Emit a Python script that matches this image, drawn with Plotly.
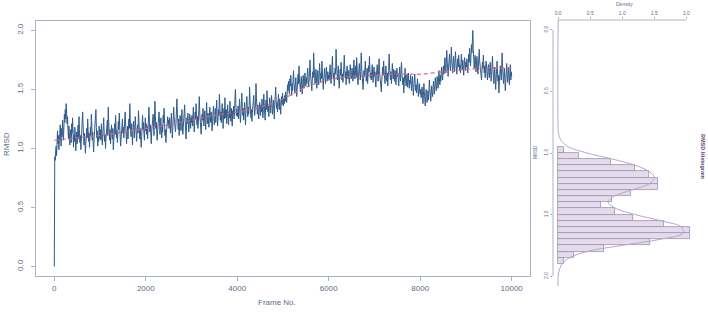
import plotly.graph_objects as go

# ---------------- data ----------------
rmsd = [0.00,
 0.93, 0.90, 0.97, 1.02, 0.94, 1.08, 1.15, 1.04, 1.11, 0.99, 1.06, 1.13, 1.20, 1.09, 1.02, 1.17, 1.10, 1.24, 1.14, 1.07, 1.19, 1.29, 1.22, 1.33, 1.25,
 1.38, 1.30, 1.21, 1.27, 1.15, 1.08, 1.19, 1.12, 1.03, 1.10, 1.16, 1.05, 1.21, 1.13, 1.26, 1.09, 1.01, 1.12, 1.06, 1.18, 1.11, 0.98, 1.07, 1.14, 1.04,
 1.12, 1.20, 1.08, 1.27, 1.16, 1.05, 1.11, 0.99, 1.07, 1.14, 1.22, 1.31, 1.19, 1.10, 1.03, 1.13, 1.08, 0.96, 1.04, 1.12, 1.17, 1.09, 1.25, 1.15, 1.06,
 1.13, 1.01, 1.10, 1.18, 1.11, 1.29, 1.20, 1.07, 1.14, 1.04, 0.97, 1.08, 1.16, 1.12, 1.23, 1.33, 1.18, 1.09, 1.15, 1.02, 1.10, 1.06, 1.19, 1.13, 1.08,
 1.16, 1.07, 1.21, 1.12, 1.03, 1.10, 1.17, 1.26, 1.14, 1.06, 1.12, 1.00, 1.09, 1.19, 1.15, 1.24, 1.11, 1.35, 1.22, 1.13, 1.07, 1.16, 1.04, 1.11, 1.20,
 1.14, 1.08, 1.17, 0.99, 1.06, 1.13, 1.21, 1.12, 1.28, 1.18, 1.09, 1.15, 1.05, 1.11, 1.23, 1.16, 1.30, 1.19, 1.10, 1.02, 1.08, 1.15, 1.12, 1.25, 1.13,
 1.18, 1.09, 1.14, 1.22, 1.31, 1.20, 1.11, 1.04, 1.13, 1.19, 1.08, 1.16, 1.25, 1.17, 1.38, 1.26, 1.14, 1.10, 1.21, 1.12, 1.03, 1.15, 1.23, 1.18, 1.09,
 1.16, 1.27, 1.19, 1.11, 1.06, 1.14, 1.20, 1.13, 1.32, 1.24, 1.15, 1.08, 1.17, 1.12, 1.01, 1.10, 1.19, 1.28, 1.16, 1.22, 1.13, 1.07, 1.18, 1.26, 1.15,
 1.21, 1.12, 1.19, 1.08, 1.16, 1.27, 1.35, 1.22, 1.14, 1.20, 1.10, 1.04, 1.15, 1.23, 1.18, 1.29, 1.19, 1.11, 1.25, 1.40, 1.28, 1.17, 1.22, 1.13, 1.07,
 1.16, 1.24, 1.19, 1.31, 1.21, 1.12, 1.18, 1.26, 1.15, 1.09, 1.20, 1.14, 1.28, 1.22, 1.34, 1.18, 1.11, 1.16, 1.05, 1.13, 1.21, 1.17, 1.27, 1.19, 1.24,
 1.17, 1.26, 1.20, 1.13, 1.22, 1.30, 1.19, 1.09, 1.16, 1.24, 1.35, 1.27, 1.18, 1.23, 1.14, 1.21, 1.29, 1.42, 1.31, 1.22, 1.16, 1.25, 1.11, 1.19, 1.28,
 1.21, 1.15, 1.24, 1.33, 1.20, 1.12, 1.18, 1.27, 1.23, 1.37, 1.25, 1.17, 1.08, 1.19, 1.26, 1.21, 1.30, 1.22, 1.14, 1.20, 1.29, 1.24, 1.17, 1.26, 1.22,
 1.28, 1.19, 1.26, 1.35, 1.22, 1.14, 1.24, 1.31, 1.25, 1.38, 1.29, 1.20, 1.27, 1.17, 1.23, 1.33, 1.44, 1.30, 1.21, 1.26, 1.12, 1.22, 1.29, 1.24, 1.34,
 1.27, 1.19, 1.25, 1.32, 1.23, 1.16, 1.28, 1.39, 1.27, 1.21, 1.30, 1.24, 1.18, 1.26, 1.35, 1.28, 1.22, 1.31, 1.25, 1.15, 1.23, 1.29, 1.36, 1.26, 1.20,
 1.27, 1.34, 1.22, 1.30, 1.41, 1.29, 1.19, 1.26, 1.33, 1.28, 1.46, 1.35, 1.24, 1.31, 1.22, 1.29, 1.38, 1.30, 1.17, 1.27, 1.34, 1.25, 1.43, 1.32, 1.26,
 1.33, 1.21, 1.29, 1.37, 1.28, 1.20, 1.31, 1.26, 1.40, 1.30, 1.23, 1.34, 1.27, 1.19, 1.32, 1.29, 1.36, 1.25, 1.31, 1.42, 1.50, 1.38, 1.28, 1.33, 1.27,
 1.30, 1.36, 1.25, 1.33, 1.42, 1.31, 1.22, 1.29, 1.37, 1.47, 1.35, 1.28, 1.34, 1.24, 1.31, 1.39, 1.30, 1.20, 1.32, 1.38, 1.44, 1.33, 1.27, 1.35, 1.29,
 1.36, 1.52, 1.40, 1.31, 1.26, 1.33, 1.23, 1.30, 1.38, 1.34, 1.45, 1.36, 1.28, 1.32, 1.40, 1.55, 1.42, 1.33, 1.29, 1.37, 1.31, 1.25, 1.34, 1.39, 1.32,
 1.28, 1.37, 1.31, 1.42, 1.34, 1.26, 1.33, 1.46, 1.38, 1.30, 1.24, 1.35, 1.41, 1.33, 1.49, 1.39, 1.31, 1.36, 1.27, 1.34, 1.43, 1.37, 1.30, 1.38, 1.45,
 1.36, 1.29, 1.35, 1.41, 1.33, 1.25, 1.37, 1.44, 1.52, 1.40, 1.34, 1.39, 1.31, 1.36, 1.46, 1.38, 1.33, 1.42, 1.35, 1.29, 1.38, 1.44, 1.37, 1.47, 1.40,
 1.36, 1.42, 1.38, 1.45, 1.40, 1.48, 1.43, 1.39, 1.46, 1.54, 1.49, 1.57, 1.51, 1.46, 1.59, 1.53, 1.62, 1.50, 1.45, 1.55, 1.49, 1.58, 1.66, 1.56, 1.51,
 1.47, 1.54, 1.60, 1.52, 1.44, 1.50, 1.57, 1.63, 1.55, 1.70, 1.59, 1.52, 1.48, 1.56, 1.61, 1.53, 1.46, 1.55, 1.62, 1.57, 1.51, 1.59, 1.64, 1.56, 1.53,
 1.60, 1.55, 1.63, 1.68, 1.59, 1.52, 1.57, 1.66, 1.75, 1.64, 1.56, 1.61, 1.49, 1.58, 1.65, 1.60, 1.81, 1.70, 1.62, 1.55, 1.59, 1.67, 1.57, 1.51, 1.60,
 1.66, 1.58, 1.54, 1.63, 1.72, 1.61, 1.56, 1.64, 1.59, 1.74, 1.65, 1.57, 1.50, 1.58, 1.62, 1.68, 1.60, 1.55, 1.63, 1.69, 1.61, 1.57, 1.65, 1.59, 1.62,
 1.58, 1.66, 1.71, 1.62, 1.55, 1.60, 1.69, 1.78, 1.66, 1.59, 1.64, 1.53, 1.61, 1.68, 1.63, 1.84, 1.72, 1.64, 1.58, 1.62, 1.70, 1.57, 1.51, 1.60, 1.67,
 1.62, 1.73, 1.65, 1.58, 1.63, 1.56, 1.61, 1.69, 1.79, 1.67, 1.60, 1.65, 1.54, 1.62, 1.70, 1.64, 1.59, 1.66, 1.61, 1.55, 1.63, 1.71, 1.65, 1.59, 1.62,
 1.68, 1.61, 1.57, 1.64, 1.75, 1.66, 1.59, 1.63, 1.70, 1.60, 1.77, 1.68, 1.62, 1.54, 1.61, 1.66, 1.72, 1.63, 1.58, 1.65, 1.81, 1.69, 1.62, 1.56, 1.50,
 1.59, 1.66, 1.61, 1.69, 1.74, 1.64, 1.57, 1.62, 1.68, 1.55, 1.63, 1.70, 1.65, 1.78, 1.67, 1.60, 1.64, 1.58, 1.66, 1.71, 1.62, 1.56, 1.63, 1.69, 1.61,
 1.65, 1.58, 1.52, 1.61, 1.68, 1.71, 1.63, 1.57, 1.66, 1.76, 1.65, 1.59, 1.62, 1.56, 1.48, 1.58, 1.64, 1.69, 1.62, 1.74, 1.66, 1.60, 1.55, 1.63, 1.70,
 1.61, 1.57, 1.64, 1.53, 1.60, 1.66, 1.80, 1.69, 1.62, 1.58, 1.65, 1.55, 1.61, 1.72, 1.64, 1.59, 1.67, 1.62, 1.57, 1.66, 1.60, 1.54, 1.63, 1.68, 1.61,
 1.64, 1.59, 1.53, 1.61, 1.69, 1.62, 1.57, 1.66, 1.73, 1.64, 1.58, 1.54, 1.60, 1.47, 1.55, 1.62, 1.68, 1.59, 1.53, 1.57, 1.63, 1.52, 1.58, 1.64, 1.56,
 1.51, 1.58, 1.55, 1.62, 1.54, 1.49, 1.56, 1.61, 1.53, 1.45, 1.52, 1.58, 1.63, 1.55, 1.49, 1.54, 1.47, 1.52, 1.59, 1.51, 1.44, 1.50, 1.55, 1.48, 1.46,
 1.50, 1.43, 1.47, 1.52, 1.41, 1.38, 1.45, 1.55, 1.48, 1.42, 1.36, 1.44, 1.50, 1.46, 1.39, 1.43, 1.49, 1.41, 1.47, 1.58, 1.51, 1.45, 1.40, 1.46, 1.53,
 1.48, 1.44, 1.50, 1.57, 1.52, 1.46, 1.53, 1.60, 1.55, 1.49, 1.54, 1.61, 1.57, 1.51, 1.58, 1.66, 1.59, 1.54, 1.62, 1.57, 1.64, 1.69, 1.61, 1.58, 1.65,
 1.70, 1.63, 1.68, 1.77, 1.71, 1.64, 1.72, 1.83, 1.74, 1.67, 1.61, 1.69, 1.75, 1.80, 1.72, 1.66, 1.73, 1.86, 1.76, 1.69, 1.64, 1.71, 1.78, 1.70, 1.65,
 1.72, 1.82, 1.74, 1.68, 1.63, 1.70, 1.76, 1.69, 1.79, 1.73, 1.66, 1.71, 1.64, 1.74, 1.80, 1.72, 1.67, 1.75, 1.69, 1.62, 1.70, 1.77, 1.71, 1.66, 1.73,
 1.69, 1.76, 1.70, 1.64, 1.72, 1.80, 1.73, 1.85, 1.77, 1.70, 1.78, 1.88, 1.81, 1.92, 2.00, 1.84, 1.75, 1.68, 1.73, 1.79, 1.71, 1.65, 1.72, 1.78, 1.70,
 1.63, 1.69, 1.75, 1.84, 1.74, 1.67, 1.71, 1.62, 1.58, 1.66, 1.73, 1.68, 1.79, 1.71, 1.64, 1.70, 1.60, 1.67, 1.74, 1.69, 1.63, 1.58, 1.65, 1.71, 1.66,
 1.60, 1.68, 1.73, 1.65, 1.57, 1.62, 1.71, 1.78, 1.67, 1.61, 1.55, 1.63, 1.69, 1.58, 1.50, 1.59, 1.66, 1.74, 1.64, 1.57, 1.62, 1.47, 1.56, 1.63, 1.70,
 1.64, 1.58, 1.67, 1.81, 1.70, 1.62, 1.55, 1.61, 1.68, 1.59, 1.49, 1.57, 1.65, 1.72, 1.63, 1.56, 1.62, 1.69, 1.60, 1.54, 1.63, 1.71, 1.58, 1.65, 1.61]
FRAME_STEP = 10
frames = [i * FRAME_STEP for i in range(len(rmsd))]

smooth_frames = [0, 500, 1000, 1500, 2000, 2500, 3000, 3500, 4000, 4500, 5000,
                 5500, 6000, 6500, 7000, 7500, 8000, 8500, 9000, 9500, 10000]
smooth_rmsd = [1.07, 1.09, 1.11, 1.14, 1.17, 1.20, 1.24, 1.28, 1.31, 1.35, 1.42,
               1.52, 1.58, 1.61, 1.62, 1.63, 1.63, 1.65, 1.67, 1.68, 1.68]

bin_centers = [0.975, 1.025, 1.075, 1.125, 1.175, 1.225, 1.275, 1.325, 1.375, 1.425,
               1.475, 1.525, 1.575, 1.625, 1.675, 1.725, 1.775, 1.825, 1.875]
bin_density = [0.09, 0.33, 0.82, 1.20, 1.41, 1.56, 1.55, 1.14, 0.84, 0.67,
               0.88, 1.17, 1.65, 2.05, 2.06, 1.43, 0.71, 0.25, 0.09]

dens_rmsd = [-0.08, 0.80, 0.85, 0.90, 0.95, 1.00, 1.05, 1.10, 1.15, 1.20, 1.25, 1.30,
             1.35, 1.40, 1.45, 1.50, 1.55, 1.60, 1.65, 1.70, 1.75, 1.80, 1.85,
             1.90, 1.95, 2.00, 2.08]
dens_vals = [0.0, 0.0, 0.01, 0.05, 0.16, 0.45, 0.85, 1.20, 1.42, 1.50, 1.42, 1.15,
             0.88, 0.78, 0.90, 1.20, 1.60, 1.92, 1.95, 1.60, 1.00, 0.45, 0.18,
             0.06, 0.02, 0.0, 0.0]

main_xticks = [0, 2000, 4000, 6000, 8000, 10000]
rmsd_ticks = [0.0, 0.5, 1.0, 1.5, 2.0]
dens_ticks = [0.0, 0.5, 1.0, 1.5, 2.0]

# ---------------- styles ----------------
W, H = 708, 312
FONT = "Liberation Sans"
TXT = "#5b6c8a"
AXC = "#aab3c3"
BLUE = "#2f5b8b"
RED = "#e2627f"
HFILL = "#e4dcec"
HLINE = "#9c8fae"
DLINE = "#b8a8c8"
PURP = "#5a3f7c"

def px(x):
    return x / W

def py(y):
    return (H - y) / H

fig = go.Figure()

fig.add_trace(go.Scatter(x=frames, y=rmsd, mode="lines",
                         line=dict(color=BLUE, width=1.0), xaxis="x", yaxis="y",
                         showlegend=False))
fig.add_trace(go.Scatter(x=smooth_frames, y=smooth_rmsd, mode="lines",
                         line=dict(color=RED, width=1.2, dash="4px,3px", shape="spline"),
                         xaxis="x", yaxis="y", showlegend=False))

fig.add_trace(go.Bar(y=bin_centers, x=bin_density, orientation="h", width=0.05,
                     marker=dict(color=HFILL, line=dict(color=HLINE, width=0.8)),
                     xaxis="x2", yaxis="y2", showlegend=False))
fig.add_trace(go.Scatter(x=dens_vals, y=dens_rmsd, mode="lines",
                         line=dict(color=DLINE, width=1, shape="spline"),
                         xaxis="x2", yaxis="y2", showlegend=False))

fig.update_layout(
    width=W, height=H, autosize=False,
    margin=dict(l=0, r=0, t=0, b=0),
    paper_bgcolor="white", plot_bgcolor="white",
    font=dict(family=FONT, color=TXT),
    bargap=0,
    xaxis=dict(domain=[px(36), px(530)], range=[-400, 10400],
               tickvals=main_xticks, ticktext=[str(v) for v in main_xticks],
               showline=True, mirror=True, linecolor=AXC, linewidth=1,
               ticks="outside", ticklen=4, tickcolor=AXC,
               showgrid=False, zeroline=False,
               tickfont=dict(size=8, color=TXT, family=FONT)),
    yaxis=dict(domain=[py(276), py(21)], range=[-0.08, 2.08],
               tickvals=rmsd_ticks, ticktext=[f"{v:.1f}" for v in rmsd_ticks],
               tickangle=-90, ticklabelstandoff=5,
               showline=True, mirror=True, linecolor=AXC, linewidth=1,
               ticks="outside", ticklen=4, tickcolor=AXC,
               showgrid=False, zeroline=False,
               tickfont=dict(size=8, color=TXT, family=FONT)),
    xaxis2=dict(domain=[px(553), px(696)], range=[-0.08, 2.15], anchor="y2",
                side="top", tickvals=dens_ticks,
                ticktext=[f"{v:.1f}" for v in dens_ticks],
                showline=False, ticks="outside", ticklen=2, tickcolor=AXC,
                showgrid=False, zeroline=False,
                tickfont=dict(size=5, color=TXT, family=FONT)),
    yaxis2=dict(domain=[py(286), py(20)], range=[2.08, -0.08], anchor="x2",
                tickvals=rmsd_ticks, ticktext=[f"{v:.1f}" for v in rmsd_ticks],
                tickangle=-90, showline=False, ticks="outside", ticklen=2,
                tickcolor=AXC, showgrid=False, zeroline=False,
                tickfont=dict(size=5, color=TXT, family=FONT)),
)

# R-style axis lines for the histogram panel (span tick range only)
fig.add_shape(type="line", xref="x2 domain", yref="y2", x0=0, x1=0,
              y0=rmsd_ticks[0], y1=rmsd_ticks[-1], line=dict(color=AXC, width=1))
fig.add_shape(type="line", xref="x2", yref="y2 domain", x0=dens_ticks[0],
              x1=dens_ticks[-1], y0=1, y1=1, line=dict(color=AXC, width=1))

def ann(text, x, y, size, angle=0, color=TXT):
    fig.add_annotation(text=text, x=px(x), y=py(y), xref="paper", yref="paper",
                       showarrow=False, textangle=angle,
                       font=dict(size=size, color=color, family=FONT),
                       xanchor="center", yanchor="middle")

ann("Frame No.", 277, 302, 8)
ann("RMSD", 6, 144, 8, angle=-90)
ann("Density", 624, 4, 5)
ann("RMSD", 535, 152, 4.5, angle=-90)
ann("<b>RMSD Histogram</b>", 703, 156, 5.5, angle=90, color=PURP)

fig.write_html("out.html", config={"displayModeBar": False},
               post_script="document.body.style.margin='0px';")
